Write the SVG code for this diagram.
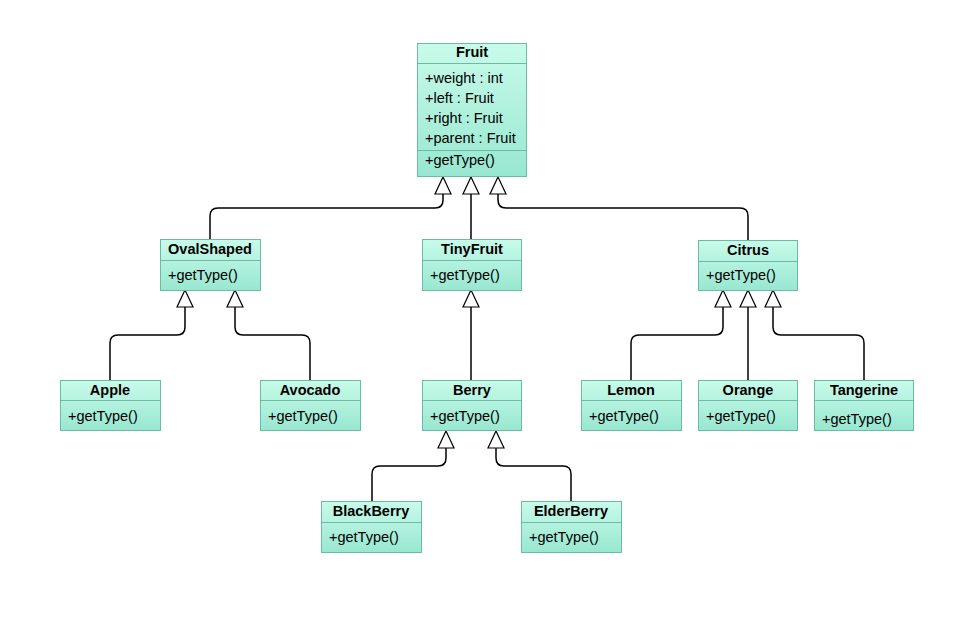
<svg xmlns="http://www.w3.org/2000/svg" width="977" height="632" viewBox="0 0 977 632">
<defs>
<linearGradient id="g" x1="0" y1="0" x2="0" y2="1">
<stop offset="0" stop-color="#c8fbea"/>
<stop offset="1" stop-color="#98e7d0"/>
</linearGradient>
<style>
.box{fill:url(#g);stroke:#6cbba4;stroke-width:1}
.div{stroke:#6cbba4;stroke-width:1}
.t{font-family:"Liberation Sans",Arial,sans-serif;font-size:14.5px;fill:#000}
.h{font-weight:bold;text-anchor:middle}
.e{fill:none;stroke:#000;stroke-width:1.5}
.a{fill:#fff;stroke:#000;stroke-width:1.2}
</style>
</defs>
<rect width="977" height="632" fill="#fff"/>
<g id="connectors">
<path class="e" d="M210,239 V216 Q210,208 218,208 H435 Q443,208 443,200 V194"/>
<path class="e" d="M471,239 V194"/>
<path class="e" d="M748,240 V216 Q748,208 740,208 H506 Q498,208 498,200 V194"/>
<path class="e" d="M110,380 V343 Q110,335 118,335 H177 Q185,335 185,327 V307"/>
<path class="e" d="M310,380 V343 Q310,335 302,335 H243 Q235,335 235,327 V307"/>
<path class="e" d="M471,380 V307"/>
<path class="e" d="M631,380 V343 Q631,335 639,335 H715 Q723,335 723,327 V307"/>
<path class="e" d="M748,380 V307"/>
<path class="e" d="M864,380 V343 Q864,335 856,335 H781 Q773,335 773,327 V307"/>
<path class="e" d="M372,501 V474 Q372,466 380,466 H438 Q446,466 446,458 V448"/>
<path class="e" d="M571,501 V474 Q571,466 563,466 H504 Q496,466 496,458 V448"/>
<path class="a" d="M443,177 L451,194 L435,194 Z"/>
<path class="a" d="M471,177 L479,194 L463,194 Z"/>
<path class="a" d="M498,177 L506,194 L490,194 Z"/>
<path class="a" d="M185,290 L193,307 L177,307 Z"/>
<path class="a" d="M235,290 L243,307 L227,307 Z"/>
<path class="a" d="M471,290 L479,307 L463,307 Z"/>
<path class="a" d="M723,290 L731,307 L715,307 Z"/>
<path class="a" d="M748,290 L756,307 L740,307 Z"/>
<path class="a" d="M773,290 L781,307 L765,307 Z"/>
<path class="a" d="M446,431 L454,448 L438,448 Z"/>
<path class="a" d="M496,431 L504,448 L488,448 Z"/>
</g>
<g id="Fruit">
<rect class="box" x="417.5" y="43.5" width="109" height="133"/>
<line class="div" x1="417.5" y1="63.5" x2="526.5" y2="63.5"/>
<line class="div" x1="417.5" y1="150.5" x2="526.5" y2="150.5"/>
<text class="t h" x="472" y="57">Fruit</text>
<text class="t" x="425" y="83">+weight : int</text>
<text class="t" x="425" y="103">+left : Fruit</text>
<text class="t" x="425" y="123">+right : Fruit</text>
<text class="t" x="425" y="143">+parent : Fruit</text>
<text class="t" x="425" y="165">+getType()</text>
</g>
<g id="OvalShaped">
<rect class="box" x="160.5" y="239.5" width="100" height="51"/>
<line class="div" x1="160.5" y1="260.5" x2="260.5" y2="260.5"/>
<text class="t h" x="210" y="254">OvalShaped</text>
<text class="t" x="168" y="280">+getType()</text>
</g>
<g id="TinyFruit">
<rect class="box" x="422.5" y="239.5" width="99" height="51"/>
<line class="div" x1="422.5" y1="260.5" x2="521.5" y2="260.5"/>
<text class="t h" x="472" y="254">TinyFruit</text>
<text class="t" x="430" y="280">+getType()</text>
</g>
<g id="Citrus">
<rect class="box" x="698.5" y="240.5" width="99" height="50"/>
<line class="div" x1="698.5" y1="261.5" x2="797.5" y2="261.5"/>
<text class="t h" x="748" y="255">Citrus</text>
<text class="t" x="706" y="280">+getType()</text>
</g>
<g id="Apple">
<rect class="box" x="60.5" y="380.5" width="100" height="50"/>
<line class="div" x1="60.5" y1="400.5" x2="160.5" y2="400.5"/>
<text class="t h" x="110" y="395">Apple</text>
<text class="t" x="68" y="421">+getType()</text>
</g>
<g id="Avocado">
<rect class="box" x="260.5" y="380.5" width="100" height="50"/>
<line class="div" x1="260.5" y1="400.5" x2="360.5" y2="400.5"/>
<text class="t h" x="310" y="395">Avocado</text>
<text class="t" x="268" y="421">+getType()</text>
</g>
<g id="Berry">
<rect class="box" x="422.5" y="380.5" width="99" height="50"/>
<line class="div" x1="422.5" y1="400.5" x2="521.5" y2="400.5"/>
<text class="t h" x="472" y="395">Berry</text>
<text class="t" x="430" y="421">+getType()</text>
</g>
<g id="Lemon">
<rect class="box" x="581.5" y="380.5" width="100" height="50"/>
<line class="div" x1="581.5" y1="400.5" x2="681.5" y2="400.5"/>
<text class="t h" x="631" y="395">Lemon</text>
<text class="t" x="589" y="421">+getType()</text>
</g>
<g id="Orange">
<rect class="box" x="698.5" y="380.5" width="99" height="50"/>
<line class="div" x1="698.5" y1="400.5" x2="797.5" y2="400.5"/>
<text class="t h" x="748" y="395">Orange</text>
<text class="t" x="706" y="421">+getType()</text>
</g>
<g id="Tangerine">
<rect class="box" x="814.5" y="380.5" width="99" height="50"/>
<line class="div" x1="814.5" y1="400.5" x2="913.5" y2="400.5"/>
<text class="t h" x="864" y="395">Tangerine</text>
<text class="t" x="822" y="424">+getType()</text>
</g>
<g id="BlackBerry">
<rect class="box" x="321.5" y="501.5" width="100" height="51"/>
<line class="div" x1="321.5" y1="522.5" x2="421.5" y2="522.5"/>
<text class="t h" x="371" y="516">BlackBerry</text>
<text class="t" x="329" y="542">+getType()</text>
</g>
<g id="ElderBerry">
<rect class="box" x="521.5" y="501.5" width="100" height="51"/>
<line class="div" x1="521.5" y1="522.5" x2="621.5" y2="522.5"/>
<text class="t h" x="571" y="516">ElderBerry</text>
<text class="t" x="529" y="542">+getType()</text>
</g>
</svg>
